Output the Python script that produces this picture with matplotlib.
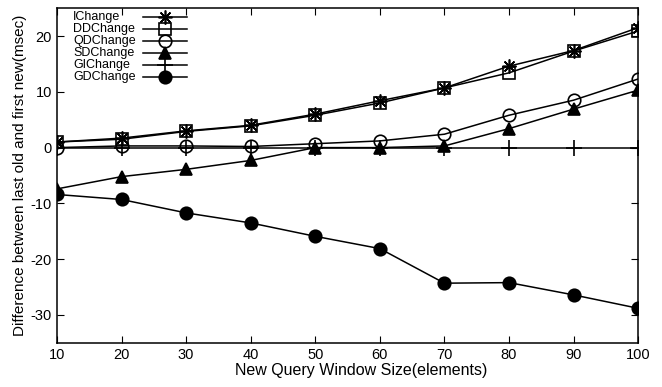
import matplotlib
matplotlib.use("Agg")
from matplotlib import pyplot as plt

plt.rcParams['font.family'] = ['Liberation Sans', 'DejaVu Sans']
plt.rcParams['axes.unicode_minus'] = False

# Data
window = [10, 20, 30, 40, 50, 60, 70, 80, 90, 100]
ichange = [1.0, 1.7, 3.0, 4.0, 6.0, 8.4, 10.7, 14.6, 17.4, 21.5]
ddchange = [1.0, 1.5, 2.9, 3.9, 5.8, 8.0, 10.7, 13.4, 17.3, 20.9]
qdchange = [0.0, 0.3, 0.3, 0.2, 0.7, 1.2, 2.4, 5.8, 8.5, 12.3]
sdchange = [-7.4, -5.2, -3.9, -2.3, 0.0, 0.0, 0.3, 3.4, 6.9, 10.3]
gichange = [0, 0, 0, 0, 0, 0, 0, 0, 0, 0]
gdchange = [-8.4, -9.3, -11.7, -13.5, -15.9, -18.1, -24.3, -24.2, -26.4, -28.8]

asterisk = (8, 2, 0)
# name, values, marker, size, filled
series = [
    ('IChange', ichange, asterisk, 10, True),
    ('DDChange', ddchange, 's', 9, False),
    ('QDChange', qdchange, 'o', 9, False),
    ('SDChange', sdchange, '^', 9, True),
    ('GIChange', gichange, '+', 11, True),
    ('GDChange', gdchange, 'o', 9, True),
]

fig = plt.figure(figsize=(6.62, 3.87), dpi=100)
ax = fig.add_axes([0.086, 0.114, 0.878, 0.865])

for i, (name, vals, mk, ms, filled) in enumerate(series):
    style = dict(color='black', lw=1.1, marker=mk, markersize=ms,
                 markerfacecolor='black' if filled else 'none',
                 markeredgecolor='black', markeredgewidth=1.2)
    ax.plot(window, vals, **style)
    # legend entry: text on the left, line + marker on the right
    yy = (343 - (17 + 12 * i)) / 335
    ax.text(0.0275, yy, name, transform=ax.transAxes, fontsize=9,
            ha='left', va='center')
    ax.plot([0.148, 0.186, 0.224], [yy, yy, yy], transform=ax.transAxes,
            clip_on=False, markevery=[1], **style)

ax.set_xlim(10, 100)
ax.set_ylim(-35, 25)
ax.set_xticks(window)
ax.set_yticks([-30, -20, -10, 0, 10, 20])
ax.tick_params(direction='in', top=True, right=True, labelsize=10.5, length=5)
for s in ax.spines.values():
    s.set_linewidth(1.1)

ax.set_xlabel('New Query Window Size(elements)', fontsize=11.5, labelpad=1, x=0.523)
ax.set_ylabel('Difference between last old and first new(msec)', fontsize=11, labelpad=3)

fig.savefig('out.png', dpi=100)
